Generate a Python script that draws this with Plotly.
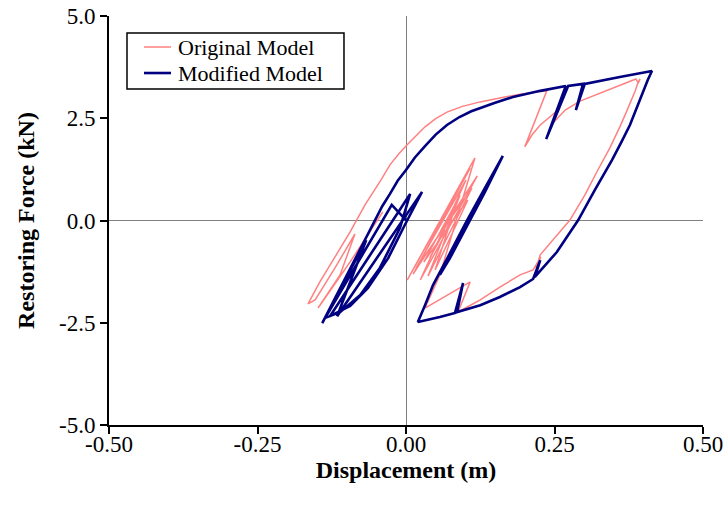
import plotly.graph_objects as go

# ---- Data ----
orig_disp = [
    -0.039, -0.094, -0.148, -0.111, -0.086, -0.1195, -0.153, -0.165,
    -0.145, -0.123, -0.094, -0.069, -0.056, -0.041, -0.027, -0.012, 0.002, 0.017, 0.032, 0.050, 0.069,
    0.095, 0.125, 0.160, 0.192, 0.237,
    0.200, 0.212, 0.226, 0.246, 0.259, 0.247, 0.268, 0.293, 0.327, 0.360, 0.382, 0.387, 0.391, 0.394,
    0.391, 0.386, 0.380, 0.370, 0.360, 0.343, 0.323, 0.301, 0.276, 0.247, 0.226, 0.219, 0.227, 0.214, 0.192,
    0.158, 0.125, 0.103, 0.0875, 0.108, 0.032,
    0.057, 0.116, 0.002, 0.108, 0.012, 0.120, 0.024, 0.101, 0.017, 0.111, 0.037,
    0.091, 0.030, 0.104, 0.049, 0.0825, 0.040, 0.066,
]
orig_force = [
    0.21, -1.01, -2.14, -1.33, -0.33, -1.16, -1.94, -2.04,
    -1.50, -0.97, -0.28, 0.38, 0.67, 1.02, 1.36, 1.63, 1.85, 2.08, 2.29, 2.49, 2.65,
    2.79, 2.90, 3.00, 3.09, 3.17,
    1.80, 2.09, 2.335, 2.58, 2.75, 2.38, 2.70, 2.92, 3.12, 3.31, 3.435, 3.46, 3.36, 3.46,
    3.39, 3.17, 2.95, 2.62, 2.29, 1.77, 1.235, 0.62, 0.01, -0.48, -0.84, -1.16, -0.89, -1.21, -1.33,
    -1.63, -1.94, -2.115, -2.24, -1.50, -2.14,
    -1.33, 1.53, -1.455, 1.28, -1.31, 1.09, -1.455, 0.99, -1.16, 0.795, -1.36,
    0.62, -1.015, 0.50, -1.21, 0.31, -0.92, -0.23,
]

mod_disp = [
    0.000, -0.024, -0.136, -0.111, -0.077, -0.044, -0.010, 0.007,
    -0.128, -0.094, -0.064, -0.030, -0.002, 0.027,
    -0.116, -0.067, -0.141,
    -0.1195, -0.094, -0.069, -0.052, -0.040, -0.027, -0.014, 0.000, 0.015, 0.032, 0.050, 0.069,
    0.090, 0.110, 0.125, 0.150, 0.180, 0.226, 0.269,
    0.236, 0.273, 0.298, 0.286, 0.301, 0.360, 0.414,
    0.407, 0.394, 0.377, 0.363, 0.347, 0.318, 0.290, 0.254, 0.234, 0.217, 0.226, 0.214, 0.192,
    0.158, 0.125, 0.086, 0.096, 0.0825, 0.057, 0.020,
    0.032, 0.0455, 0.074, 0.103, 0.133, 0.163,
    0.133, 0.103, 0.074, 0.057,
]
mod_force = [
    0.01, 0.38, -2.38, -2.24, -1.82, -1.16, -0.18, 0.65,
    -2.34, -2.09, -1.65, -0.92, -0.11, 0.70,
    -2.34, -0.48, -2.51,
    -1.895, -1.16, -0.48, 0.01, 0.35, 0.65, 0.97, 1.235, 1.54, 1.82, 2.10, 2.335,
    2.53, 2.67, 2.75, 2.88, 3.02, 3.17, 3.29,
    1.99, 3.29, 3.34, 2.70, 3.34, 3.51, 3.655,
    3.435, 2.95, 2.335, 1.93, 1.48, 0.75, 0.01, -0.77, -1.09, -1.38, -0.97, -1.43, -1.63,
    -1.87, -2.07, -2.24, -1.53, -2.26, -2.36, -2.48,
    -2.07, -1.58, -0.80, 0.01, 0.80, 1.58,
    0.70, -0.11, -0.92, -1.33,
]

series_names = ["Original Model", "Modified Model"]
series_colors = ["#FF8080", "#000080"]

x_tick_vals = [-0.5, -0.25, 0.0, 0.25, 0.5]
x_tick_text = ["-0.50", "-0.25", "0.00", "0.25", "0.50"]
y_tick_vals = [-5.0, -2.5, 0.0, 2.5, 5.0]
y_tick_text = ["-5.0", "-2.5", "0.0", "2.5", "5.0"]

FONT = "Liberation Serif, Times New Roman, serif"

fig = go.Figure()
fig.add_trace(go.Scatter(
    x=orig_disp, y=orig_force, mode="lines", name=series_names[0],
    line=dict(color=series_colors[0], width=1.5), showlegend=False,
))
fig.add_trace(go.Scatter(
    x=mod_disp, y=mod_force, mode="lines", name=series_names[1],
    line=dict(color=series_colors[1], width=2.6), showlegend=False,
))

# Boxed legend in paper coordinates (plot area: 109..703 px wide, 16..425 px tall)
fig.add_shape(type="rect", xref="paper", yref="paper",
              x0=0.0303, x1=0.3956, y0=0.8215, y1=0.9584,
              line=dict(color="black", width=1.5), fillcolor="white", layer="above")
legend_rows_y = [0.9242, 0.8606]
legend_widths = [1.5, 2.6]
for name, color, ly, lw in zip(series_names, series_colors, legend_rows_y, legend_widths):
    fig.add_shape(type="line", xref="paper", yref="paper",
                  x0=0.0589, x1=0.1044, y0=ly, y1=ly,
                  line=dict(color=color, width=lw), layer="above")
    fig.add_annotation(xref="paper", yref="paper", x=0.1128, y=ly,
                       xanchor="left", yanchor="middle", showarrow=False,
                       text=name, font=dict(family=FONT, size=22, color="black"))

fig.update_layout(
    width=726, height=512,
    margin=dict(l=109, r=23, t=16, b=87),
    paper_bgcolor="white", plot_bgcolor="white",
    font=dict(family=FONT, color="black", size=23),
    showlegend=False,
)
fig.update_xaxes(
    range=[-0.5, 0.5], tickvals=x_tick_vals, ticktext=x_tick_text,
    showgrid=False, zeroline=True, zerolinecolor="#808080", zerolinewidth=1,
    showline=True, linecolor="black", linewidth=2, mirror=False,
    ticks="outside", ticklen=7, tickwidth=2, tickcolor="black",
    tickfont=dict(family=FONT, size=23, color="black"),
    ticklabelstandoff=-10, automargin=False,
    title=dict(text="<b>Displacement (m)</b>", font=dict(family=FONT, size=24, color="black"), standoff=0),
)
fig.update_yaxes(
    range=[-5, 5], tickvals=y_tick_vals, ticktext=y_tick_text,
    showgrid=False, zeroline=True, zerolinecolor="#808080", zerolinewidth=1,
    showline=True, linecolor="black", linewidth=2, mirror=False,
    ticks="outside", ticklen=7, tickwidth=2, tickcolor="black",
    tickfont=dict(family=FONT, size=23, color="black"),
    automargin=False,
    title=dict(text="<b>Restoring Force (kN)</b>", font=dict(family=FONT, size=24, color="black"), standoff=18),
)

fig.write_html(
    "out.html",
    config={"displayModeBar": False},
    post_script="document.body.style.margin='0px';document.body.style.padding='0px';",
)
